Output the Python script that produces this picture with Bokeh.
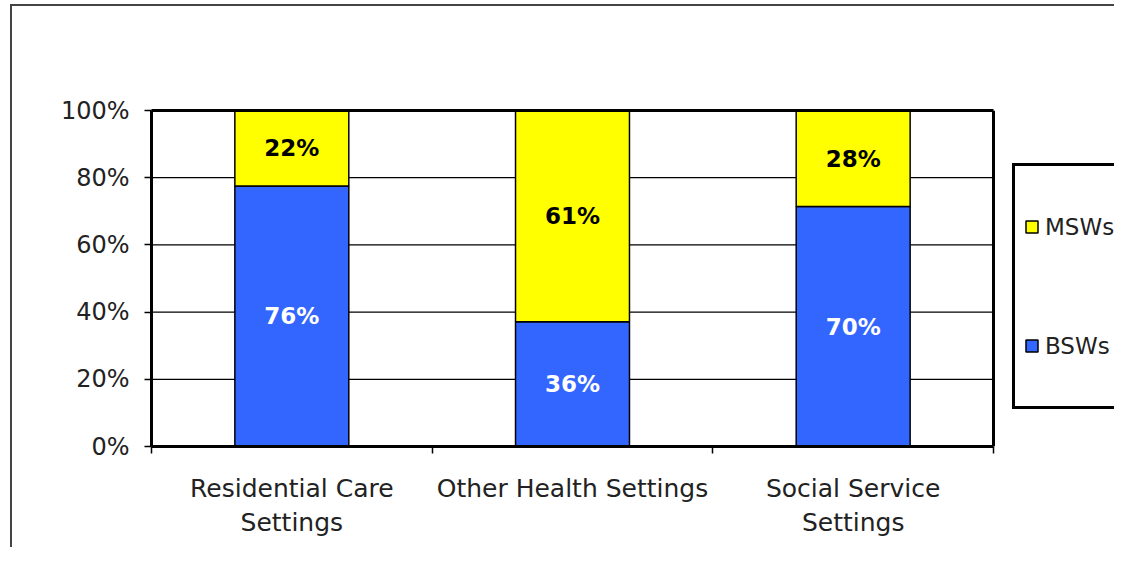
import numpy as np
from bokeh.plotting import figure
from bokeh.models import (ColumnDataSource, FixedTicker, NumeralTickFormatter, Legend,
                          LegendItem, Range1d, LinearAxis, Span)
from bokeh.embed import file_html
from bokeh.resources import INLINE
from bokeh.core.properties import value

# ---- data ----
categories = ["Residential Care Settings", "Other Health Settings", "Social Service Settings"]
tick_labels = ["Residential Care\nSettings", "Other Health Settings", "Social Service\nSettings"]
bsw = [76, 36, 70]
msw = [22, 61, 28]
series = ["BSWs", "MSWs"]
colors = ["#3366FF", "#FFFF00"]
y_ticks = [0, 0.2, 0.4, 0.6, 0.8, 1.0]

FONT = "DejaVu Sans"

n = len(categories)
x = np.arange(n) + 0.5
tot = np.array(bsw, dtype=float) + np.array(msw, dtype=float)
bsw_share = np.array(bsw) / tot
msw_share = np.array(msw) / tot

src = ColumnDataSource(dict(
    x=x, BSWs=bsw_share, MSWs=msw_share,
    bsw_mid=bsw_share / 2, msw_mid=bsw_share + msw_share / 2,
    bsw_lbl=[f"{v}%" for v in bsw], msw_lbl=[f"{v}%" for v in msw],
))

W, H = 1114, 547
LEFT, TOP, BOTTOM = 151, 110, 101
PLOT_W = 842  # drawn plot-area width in px; the frame continues to the right for the legend
x_end = n * (W - LEFT) / PLOT_W

p = figure(width=W, height=H, x_range=Range1d(0, x_end), y_range=Range1d(0, 1),
           output_backend="svg", toolbar_location=None,
           min_border_left=LEFT, min_border_right=0, min_border_top=TOP, min_border_bottom=BOTTOM)
p.background_fill_color = "white"
p.border_fill_color = None
p.outline_line_color = None
# outer chart frame (left and top edges; the rest lies beyond the picture)
p.styles = {
    "background-color": "white",
    "background-image": "linear-gradient(#444444, #444444), linear-gradient(#444444, #444444)",
    "background-size": "2px 100%, 100% 2px",
    "background-position": "10px 4px, 10px 4px",
    "background-repeat": "no-repeat",
}

xa = p.below[0]
ya = p.left[0]

p.xgrid.visible = False
p.ygrid.visible = False
# horizontal gridlines within the plot area
p.segment(x0=0, x1=n, y0=y_ticks[1:-1], y1=y_ticks[1:-1], line_color="black", line_width=1.2)

rs = p.vbar_stack(series, x="x", width=0.406, color=colors, line_color="black",
                  line_width=1.5, source=src)

p.text(x="x", y="bsw_mid", text="bsw_lbl", source=src, text_align="center",
       text_baseline="middle", text_font=value(FONT), text_font_style="bold",
       text_font_size="23px", text_color="white")
p.text(x="x", y="msw_mid", text="msw_lbl", source=src, text_align="center",
       text_baseline="middle", text_font=value(FONT), text_font_style="bold",
       text_font_size="23px", text_color="black")

# right edge of plot area
p.add_layout(Span(location=n, dimension="height", line_color="black", line_width=3))
# top edge of plot area
top = LinearAxis(bounds=(0, n), ticker=FixedTicker(ticks=[]),
                 major_tick_line_color=None, minor_tick_line_color=None,
                 major_label_text_font_size="0px", axis_line_width=3, axis_line_color="black",
                 major_tick_out=0, major_tick_in=0, minor_tick_out=0, minor_tick_in=0)
p.add_layout(top, "above")

# y axis
ya.ticker = FixedTicker(ticks=y_ticks)
ya.formatter = NumeralTickFormatter(format="0%")
ya.axis_line_width = 3
ya.axis_line_color = "black"
ya.major_tick_out = 7
ya.major_tick_in = 0
ya.major_tick_line_width = 1.5
ya.minor_tick_line_color = None
ya.major_label_text_font = FONT
ya.major_label_text_font_size = "24px"
ya.major_label_text_color = "#222222"
ya.major_label_standoff = 15

# x axis
xa.bounds = (0, n)
xa.ticker = FixedTicker(ticks=list(x), minor_ticks=list(range(n + 1)))
xa.major_label_overrides = {float(xi): lbl for xi, lbl in zip(x, tick_labels)}
xa.axis_line_width = 3
xa.axis_line_color = "black"
xa.major_tick_line_color = None
xa.major_tick_out = 0
xa.major_tick_in = 0
xa.minor_tick_out = 7
xa.minor_tick_in = 0
xa.minor_tick_line_color = "black"
xa.minor_tick_line_width = 1.5
xa.major_label_text_font = FONT
xa.major_label_text_font_size = "25px"
xa.major_label_text_color = "#222222"
xa.major_label_text_line_height = 1.2
xa.major_label_standoff = 20

legend = Legend(
    items=[LegendItem(label="MSWs", renderers=[rs[1]]), LegendItem(label="BSWs", renderers=[rs[0]])],
    location=(861, 37), padding=9, spacing=16, label_height=103, label_width=85,
    glyph_height=15, glyph_width=15,
    label_standoff=6, border_line_color="black", border_line_width=3, border_line_alpha=1,
    background_fill_color="white", background_fill_alpha=1, margin=0,
    label_text_font=FONT, label_text_font_size="23px", label_text_color="#222222",
)
p.add_layout(legend)

open("out.html", "w").write(file_html(p, INLINE))
